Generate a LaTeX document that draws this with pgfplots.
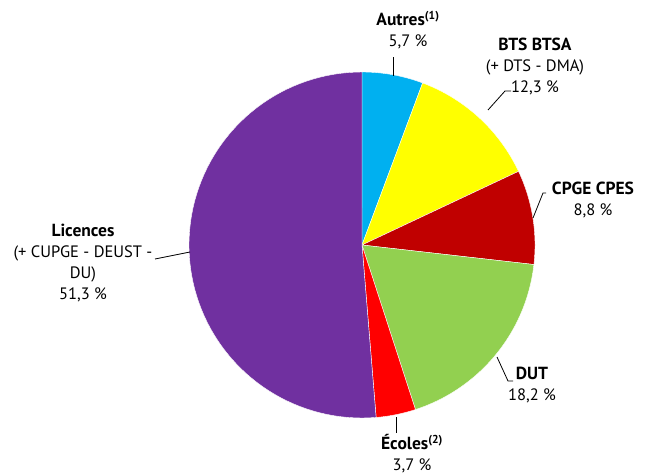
\documentclass[border=0pt]{standalone}
\usepackage{pgfplots}
\pgfplotsset{compat=1.18}
\usepackage{fontspec}
\setmainfont{PT Sans}
\definecolor{cAutres}{HTML}{00B0F0}
\definecolor{cBTS}{HTML}{FFFF00}
\definecolor{cCPGE}{HTML}{C00000}
\definecolor{cDUT}{HTML}{92D050}
\definecolor{cEcoles}{HTML}{FF0000}
\definecolor{cLic}{HTML}{7030A0}
\newcommand{\B}[1]{{\fontsize{17.5}{21}\selectfont\bfseries #1}}
% slice: cumulative percent before, percent, colour
\newcommand{\slice}[3]{%
  \pgfmathsetmacro\sa{90-3.6*#1}%
  \pgfmathsetmacro\sb{90-3.6*(#1+#2)}%
  \edef\tmp{\noexpand\addplot[fill=#3, draw=white, line width=0.4pt, domain=\sa:\sb, samples=80]
    ({362+173*cos(x)},{230+173*sin(x)}) -- (axis cs:362,230) -- cycle;}%
  \tmp}
\begin{document}
\begin{tikzpicture}
\begin{axis}[hide axis, scale only axis, width=650pt, height=475pt,
  xmin=0, xmax=650, ymin=0, ymax=475, clip=false]
\path (axis cs:0,0) rectangle (axis cs:650,475);
\slice{0}{5.7}{cAutres}
\slice{5.7}{12.3}{cBTS}
\slice{18.0}{8.8}{cCPGE}
\slice{26.8}{18.2}{cDUT}
\slice{45.0}{3.7}{cEcoles}
\slice{48.7}{51.3}{cLic}
\begin{scope}[every node/.style={align=center, font=\fontsize{16.5}{21}\selectfont, inner sep=0pt}]
\node at (axis cs:408,445) {\B{Autres}\textsuperscript{\textbf{(1)}}\\5,7 \%};
\node at (axis cs:535,409) {\B{BTS BTSA}\\(+ DTS - DMA)\\12,3 \%};
\node at (axis cs:593,275) {\B{CPGE CPES}\\8,8 \%};
\node at (axis cs:532,89.5) {\B{DUT}\\18,2 \%};
\node at (axis cs:412,21) {\B{Écoles}\textsuperscript{\textbf{(2)}}\\3,7 \%};
\node at (axis cs:83,211.5) {\B{Licences}\\(+ CUPGE - DEUST -\\DU)\\51,3 \%};
\end{scope}
\draw[black, line width=0.8pt] (axis cs:393,399) -- (axis cs:393,418);
\draw[black, line width=0.8pt] (axis cs:488,365) -- (axis cs:505,384) -- (axis cs:511,384);
\draw[black, line width=0.8pt] (axis cs:533,257) -- (axis cs:543,282) -- (axis cs:546,282);
\draw[black, line width=0.8pt] (axis cs:497,118) -- (axis cs:508,94) -- (axis cs:513,94);
\draw[black, line width=0.8pt] (axis cs:396,58) -- (axis cs:396,42);
\draw[black, line width=0.8pt] (axis cs:155,216) -- (axis cs:190,223);
\end{axis}
\end{tikzpicture}
\end{document}
